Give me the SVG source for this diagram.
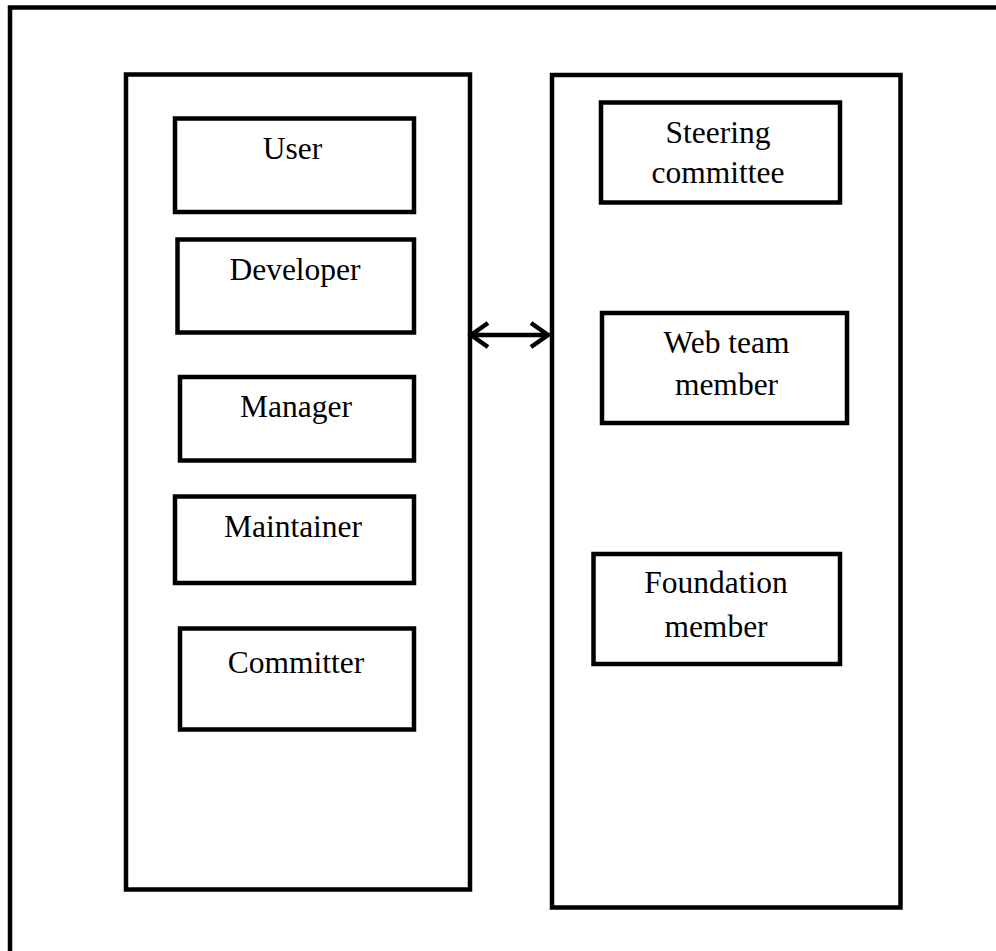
<svg xmlns="http://www.w3.org/2000/svg" width="996" height="951" viewBox="0 0 996 951">
<style>
.box{fill:none;stroke:#000;stroke-width:4.5}
.lbl{font-family:"Liberation Serif","Times New Roman",serif;font-size:31.5px;fill:#000;text-anchor:middle}
.conn{fill:none;stroke:#000;stroke-width:4.5}
</style>
<rect width="996" height="951" fill="#fff"/>
<g id="frame"><path class="box" d="M10,951 V7.5 H996"/></g>
<g id="left-group"><rect class="box" x="126" y="74.5" width="344" height="815"/></g>
<g id="right-group"><rect class="box" x="552" y="75" width="348.5" height="832.5"/></g>
<g id="user"><rect class="box" x="175" y="118.5" width="239" height="93.5"/><text class="lbl" x="292.5" y="159">User</text></g>
<g id="developer"><rect class="box" x="177.5" y="239.5" width="236.5" height="93"/><text class="lbl" x="295" y="280">Developer</text></g>
<g id="manager"><rect class="box" x="180" y="377" width="234" height="83.5"/><text class="lbl" x="296" y="417">Manager</text></g>
<g id="maintainer"><rect class="box" x="175" y="496.5" width="239" height="86.5"/><text class="lbl" x="293" y="536.5">Maintainer</text></g>
<g id="committer"><rect class="box" x="180" y="628.5" width="234" height="101"/><text class="lbl" x="296" y="673">Committer</text></g>
<g id="steering"><rect class="box" x="601" y="102.5" width="239" height="100"/><text class="lbl" x="718" y="143">Steering</text><text class="lbl" x="718" y="183">committee</text></g>
<g id="webteam"><rect class="box" x="602" y="313" width="245" height="110"/><text class="lbl" x="726.5" y="353">Web team</text><text class="lbl" x="726.5" y="395">member</text></g>
<g id="foundation"><rect class="box" x="593.5" y="554" width="246.5" height="110"/><text class="lbl" x="716" y="593">Foundation</text><text class="lbl" x="716" y="636.5">member</text></g>
<g id="connectors">
<path class="conn" d="M471,335 H548"/>
<path class="conn" d="M488,323 L471,335 L488,347"/>
<path class="conn" d="M531,323 L548,335 L531,347"/>
</g>
</svg>
